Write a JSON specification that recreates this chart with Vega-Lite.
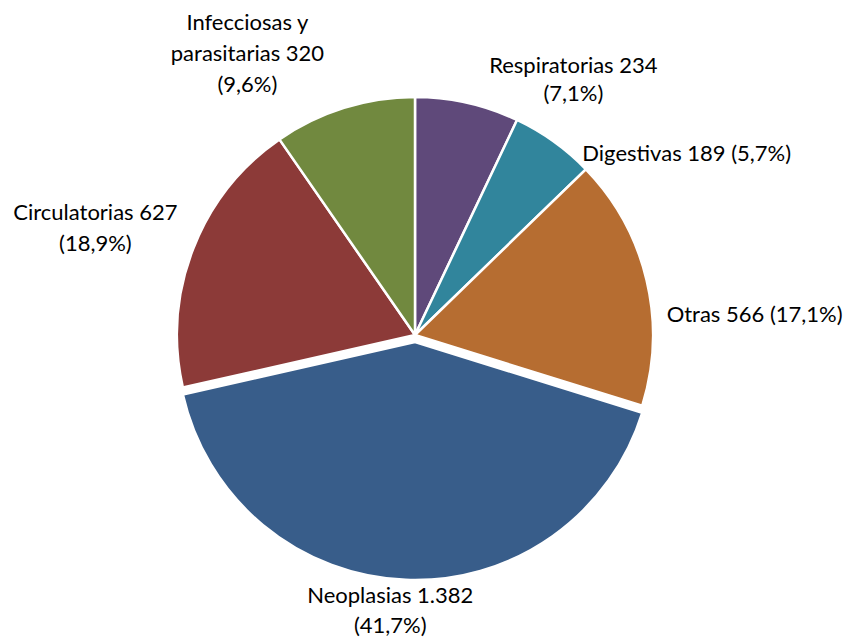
{
  "$schema": "https://vega.github.io/schema/vega-lite/v6.json",
  "width": 830,
  "height": 670,
  "padding": {"left": 0, "top": 0, "right": 16, "bottom": 0},
  "autosize": {"type": "none"},
  "background": "white",
  "config": {"view": {"stroke": null}},
  "data": {
    "values": [
      {"causa": "Respiratorias", "valor": 234, "orden": 1, "label": "Respiratorias 234\n(7,1%)"},
      {"causa": "Digestivas", "valor": 189, "orden": 2, "label": "Digestivas 189 (5,7%)"},
      {"causa": "Otras", "valor": 566, "orden": 3, "label": "Otras 566 (17,1%)"},
      {"causa": "Neoplasias", "valor": 1382, "orden": 4, "label": "Neoplasias 1.382\n(41,7%)"},
      {"causa": "Circulatorias", "valor": 627, "orden": 5, "label": "Circulatorias 627\n(18,9%)"},
      {"causa": "Infecciosas y parasitarias", "valor": 320, "orden": 6, "label": "Infecciosas y\nparasitarias 320\n(9,6%)"}
    ]
  },
  "transform": [
    {"stack": "valor", "groupby": [], "sort": [{"field": "orden"}], "as": ["t0", "t1"]},
    {"calculate": "(datum.t0 + datum.t1) / 2", "as": "tm"}
  ],
  "layer": [
    {
      "transform": [{"filter": "datum.causa != 'Neoplasias'"}],
      "mark": {"type": "arc", "outerRadius": 238, "stroke": "white", "strokeWidth": 2.5},
      "encoding": {
        "theta": {"field": "t0", "type": "quantitative", "scale": {"domain": [0, 3318]}},
        "theta2": {"field": "t1"},
        "color": {"field": "causa", "type": "nominal", "legend": null,
          "scale": {"domain": ["Respiratorias", "Digestivas", "Otras", "Neoplasias", "Circulatorias", "Infecciosas y parasitarias"],
                    "range": ["#5F497A", "#31859C", "#B66D31", "#385D8A", "#8C3A38", "#71893F"]}}
      }
    },
    {
      "transform": [{"filter": "datum.causa == 'Neoplasias'"}],
      "mark": {"type": "arc", "outerRadius": 238, "stroke": "white", "strokeWidth": 2.5, "yOffset": 7},
      "encoding": {
        "theta": {"field": "t0", "type": "quantitative", "scale": {"domain": [0, 3318]}},
        "theta2": {"field": "t1"},
        "color": {"field": "causa", "type": "nominal", "legend": null}
      }
    },
    {
      "transform": [{"filter": "datum.causa == 'Infecciosas y parasitarias'"}],
      "mark": {"type": "text", "radius": 270, "align": "center", "baseline": "middle", "dx": -87, "dy": -54, "lineBreak": "\n", "font": "Lato", "fontSize": 22, "lineHeight": 31, "color": "black"},
      "encoding": {"theta": {"field": "tm", "type": "quantitative", "scale": {"domain": [0, 3318]}}, "text": {"field": "label"}}
    },
    {
      "transform": [{"filter": "datum.causa == 'Respiratorias'"}],
      "mark": {"type": "text", "radius": 270, "align": "center", "baseline": "middle", "dx": 99, "dy": -6, "lineBreak": "\n", "font": "Lato", "fontSize": 22, "lineHeight": 28, "color": "black"},
      "encoding": {"theta": {"field": "tm", "type": "quantitative", "scale": {"domain": [0, 3318]}}, "text": {"field": "label"}}
    },
    {
      "transform": [{"filter": "datum.causa == 'Digestivas'"}],
      "mark": {"type": "text", "radius": 270, "align": "left", "baseline": "middle", "dx": 10, "dy": 38, "font": "Lato", "fontSize": 22, "color": "black"},
      "encoding": {"theta": {"field": "tm", "type": "quantitative", "scale": {"domain": [0, 3318]}}, "text": {"field": "label"}}
    },
    {
      "transform": [{"filter": "datum.causa == 'Otras'"}],
      "mark": {"type": "text", "radius": 270, "align": "left", "baseline": "middle", "dx": -11, "dy": 43, "font": "Lato", "fontSize": 22, "color": "black"},
      "encoding": {"theta": {"field": "tm", "type": "quantitative", "scale": {"domain": [0, 3318]}}, "text": {"field": "label"}}
    },
    {
      "transform": [{"filter": "datum.causa == 'Neoplasias'"}],
      "mark": {"type": "text", "radius": 270, "align": "center", "baseline": "middle", "dx": -14, "dy": -9, "lineBreak": "\n", "font": "Lato", "fontSize": 22, "lineHeight": 30, "color": "black"},
      "encoding": {"theta": {"field": "tm", "type": "quantitative", "scale": {"domain": [0, 3318]}}, "text": {"field": "label"}}
    },
    {
      "transform": [{"filter": "datum.causa == 'Circulatorias'"}],
      "mark": {"type": "text", "radius": 270, "align": "center", "baseline": "middle", "dx": -68, "dy": -24, "lineBreak": "\n", "font": "Lato", "fontSize": 22, "lineHeight": 31, "color": "black"},
      "encoding": {"theta": {"field": "tm", "type": "quantitative", "scale": {"domain": [0, 3318]}}, "text": {"field": "label"}}
    }
  ]
}
